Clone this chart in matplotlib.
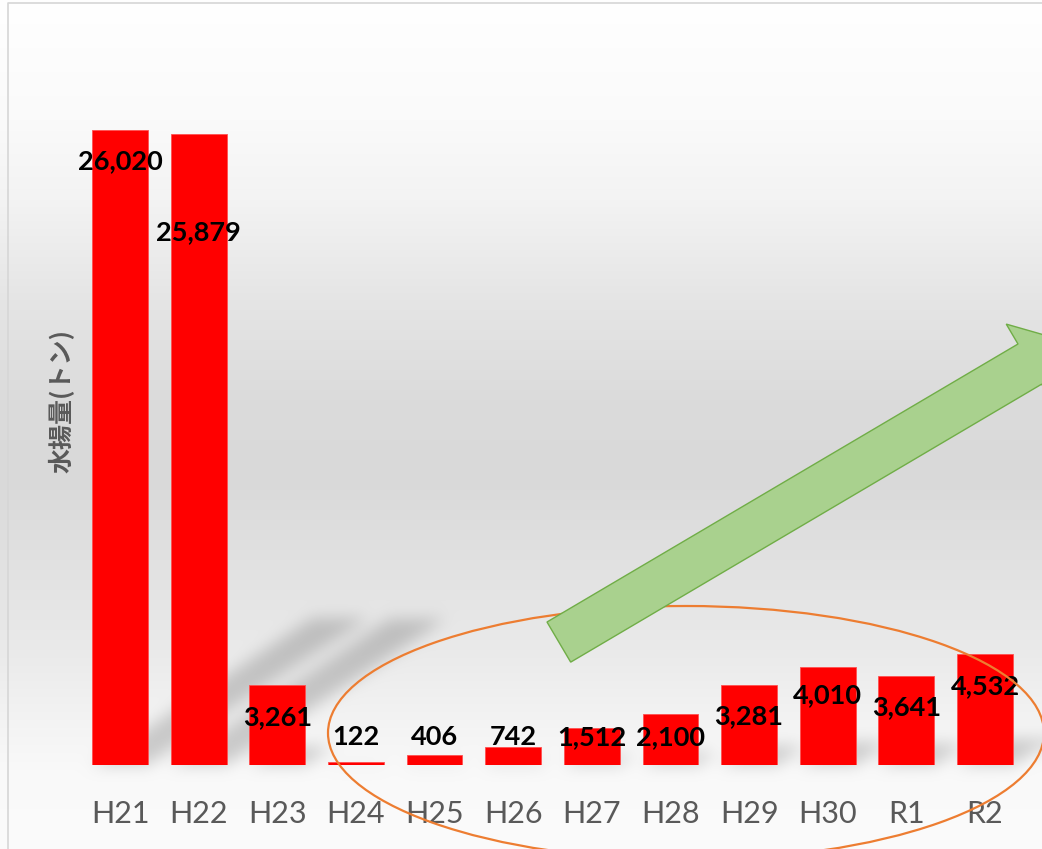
import numpy as np
import matplotlib
matplotlib.use("Agg")
import matplotlib.pyplot as plt
from matplotlib.path import Path
from matplotlib.patches import Polygon, Ellipse

# landings per fiscal year (tonnes)
years = ["H21", "H22", "H23", "H24", "H25", "H26", "H27", "H28", "H29", "H30", "R1", "R2"]
catch_t = [26020, 25879, 3261, 122, 406, 742, 1512, 2100, 3281, 4010, 3641, 4532]
# where each value label sits (in tonnes, placed by hand in the original)
label_y = [24750, 21840, 1970, 1150, 1150, 1150, 1150, 1150, 2010, 2870, 2380, 3220]

W, H, DPI = 1042, 849, 100
PX_PER_CAT = 78.64
BASE_Y = 765          # baseline, pixels from top
YMAX = 30000.0
AX_H = 732

fig = plt.figure(figsize=(W / DPI, H / DPI), dpi=DPI)

# background axes (pixel coords, y down)
bg = fig.add_axes([0, 0, 1, 1], zorder=0)
bg.set_xlim(0, W); bg.set_ylim(H, 0); bg.axis("off")

ax = fig.add_axes([60 / W, (H - BASE_Y) / H, (W - 60) / W, AX_H / H], zorder=1)
ax.set_xlim((60 - 120) / PX_PER_CAT, (W - 120) / PX_PER_CAT)
ax.set_ylim(0, YMAX)
ax.patch.set_visible(False)
for s in ax.spines.values():
    s.set_visible(False)
ax.set_yticks([])

x = np.arange(len(years))
bw = 0.71
ax.bar(x, catch_t, width=bw, color="#ff0000", edgecolor="#ff5050", lw=0.6, zorder=3)
ax.set_xticks(x, years)
ax.tick_params(axis="x", length=0, pad=25, labelsize=22, labelcolor="#595959")
for t in ax.get_xticklabels():
    t.set_family("Lato")

for i, v in enumerate(catch_t):
    ax.text(i, label_y[i], f"{v:,}", ha="center", va="center", fontsize=19.5,
            fontweight="bold", color="black", family="Lato", zorder=5)

# --- background gradient + perspective shadows of the bars
stops_y = [0, 120, 200, 300, 400, 480, 560, 650, 720, 770, H]
stops_g = [255, 250, 243, 229, 219, 217, 225, 234, 243, 249, 251]
col = np.interp(np.arange(H) + 0.5, stops_y, stops_g) / 255.0
img = np.repeat(col[:, None], W, axis=1)

gx, gy = np.meshgrid(np.arange(W) + 0.5, np.arange(H) + 0.5)
pts = np.column_stack([gx.ravel(), gy.ravel()])
mask = np.zeros(H * W)
for i, v in enumerate(catch_t):
    d = ax.transData.transform([(i - bw / 2, 0), (i + bw / 2, 0), (i, v)])
    xl, xr = d[0, 0], d[1, 0]
    hpx = d[2, 1] - d[0, 1]
    dx, dy = 0.348 * hpx, 0.232 * hpx
    poly = [(xl, BASE_Y), (xr, BASE_Y), (xr + dx, BASE_Y - dy), (xl + dx, BASE_Y - dy)]
    mask = np.maximum(mask, Path(poly).contains_points(pts).astype(float))
mask = mask.reshape(H, W)


def blur1d(a, r, axis):
    a = np.moveaxis(a, axis, -1)
    p = np.pad(a, [(0, 0), (r + 1, r)], mode="edge")
    c = np.cumsum(p, axis=-1)
    out = (c[:, 2 * r + 1:] - c[:, :-2 * r - 1]) / (2 * r + 1)
    return np.moveaxis(out, -1, axis)


for _ in range(3):
    mask = blur1d(mask, 7, 0)
    mask = blur1d(mask, 7, 1)
img = img * (1 - 0.18 * mask)
bg.imshow(np.dstack([img] * 3), extent=(0, W, H, 0), aspect="auto", interpolation="bilinear")
bg.plot([8, 8, W], [H, 3, 3], color="#d6d6d6", lw=1.2)

# y-axis title
fig.text(62 / W, 1 - 401 / H, "水揚量(トン)", rotation=90, ha="center", va="center",
         fontsize=18, fontweight="bold", color="#595959",
         family=["Noto Sans CJK JP", "DejaVu Sans"])

# --- overlay: trend arrow and ellipse
ov = fig.add_axes([0, 0, 1, 1], zorder=2)
ov.set_xlim(0, W); ov.set_ylim(H, 0); ov.axis("off")
ov.patch.set_visible(False)

ov.add_patch(Ellipse((686, 733), 716, 254, fill=False, edgecolor="#ed7d31", lw=1.6))

tail = np.array([547.0, 622.0])
u = np.array([471.0, -278.0])
L = np.hypot(*u)
u = u / L
n = np.array([-u[1], u[0]])
sw, barb, head = 46.6, 23.1, 44.0
arrow = [tail, tail + L * u, tail + L * u - barb * n,
         tail + (L + head) * u + sw / 2 * n,
         tail + L * u + (sw + barb) * n, tail + L * u + sw * n, tail + sw * n]
ov.add_patch(Polygon(arrow, closed=True, facecolor="#a9d18e", edgecolor="#70ad47", lw=1.0))

fig.savefig("out.png", dpi=DPI)
